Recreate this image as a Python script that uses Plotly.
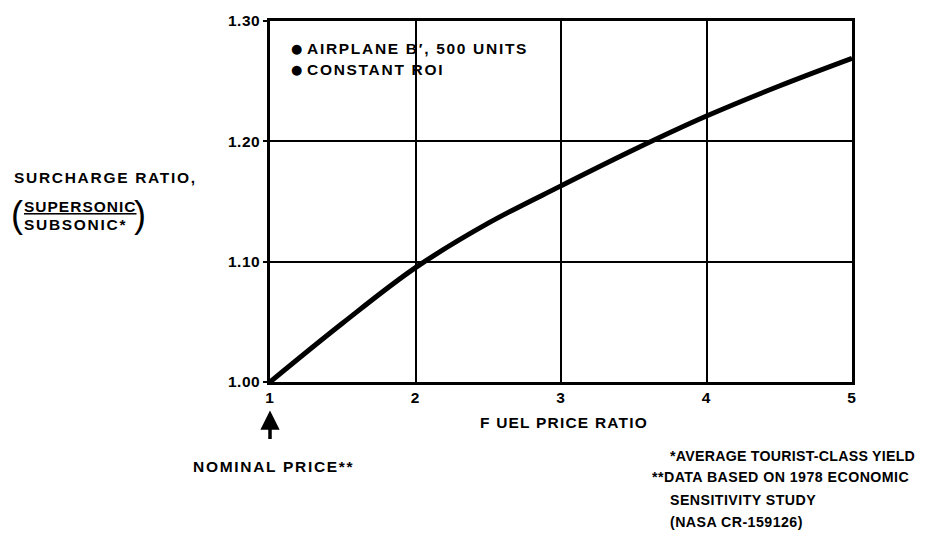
import plotly.graph_objects as go

fuel_price_ratio = [1.0, 1.5, 2.0, 2.5, 3.0, 3.5, 4.0, 4.5, 5.0]
surcharge_ratio = [1.000, 1.049, 1.095, 1.132, 1.163, 1.193, 1.221, 1.246, 1.269]

x_ticks = [1, 2, 3, 4, 5]
x_tick_labels = ["1", "2", "3", "4", "5"]
y_ticks = [1.00, 1.10, 1.20, 1.30]
y_tick_labels = ["1.00", "1.10", "1.20", "1.30"]

FONT = "Liberation Sans"
FS = 15.5

# plot area in pixels
L, R, T, B = 270, 852, 14, 382
W, H = 925, 539


def px(xpix):
    return (xpix - L) / (R - L)


def py(ypix):
    return (B - ypix) / (B - T)


def sp(t, ls):
    return f'<span style="letter-spacing:{ls}px">{t}</span>'


fig = go.Figure()
fig.add_trace(go.Scatter(
    x=fuel_price_ratio, y=surcharge_ratio, mode="lines",
    line=dict(color="black", width=5, shape="spline", smoothing=1.0),
    hoverinfo="skip", showlegend=False,
))

annotations = []


def text(t, xpix, ypix, xanchor="left", size=FS, weight="bold", family=FONT, ls=0):
    annotations.append(dict(
        text=sp(t, ls) if ls else t, x=px(xpix), y=py(ypix),
        xref="paper", yref="paper",
        xanchor=xanchor, yanchor="middle", showarrow=False,
        font=dict(family=family, size=size, color="black", weight=weight),
    ))


# in-plot notes
text("●", 296, 42, xanchor="center", size=13, family="DejaVu Sans")
text("AIRPLANE B′, 500 UNITS", 305, 42, ls=1.7)
text("●", 296, 63, xanchor="center", size=13, family="DejaVu Sans")
text("CONSTANT ROI", 305, 63, ls=1.7)

# y axis title
text("SURCHARGE RATIO,", 12, 174, ls=1.7)
text("<u>SUPERSONIC</u>", 22, 203, ls=1.0)
text("SUBSONIC*", 22, 221, ls=1.7)
text("(", 17, 211, xanchor="center", size=36, weight="normal")
text(")", 140, 211, xanchor="center", size=36, weight="normal")

# x axis title
text("F UEL PRICE RATIO", 564, 423, xanchor="center", ls=1.2)

# nominal price
text("NOMINAL PRICE**", 273, 468, xanchor="center", ls=1.7)
annotations.append(dict(
    x=1, y=py(411), xref="x", yref="paper", text="", showarrow=True,
    ax=0, ay=30, axref="pixel", ayref="pixel",
    arrowhead=2, arrowsize=1.1, arrowwidth=3.5, arrowcolor="black",
))

# footnotes
FN = 14.2
text("*AVERAGE TOURIST-CLASS YIELD", 668, 457, size=FN, ls=0.25)
text("**DATA BASED ON 1978 ECONOMIC", 650, 479, size=FN, ls=0.45)
text("SENSITIVITY STUDY", 668, 502, size=FN, ls=0.45)
text("(NASA CR-159126)", 668, 525, size=FN, ls=0.45)

tickfont = dict(family=FONT, size=FS, color="black", weight="bold")

fig.update_layout(
    width=W, height=H,
    margin=dict(l=L, r=W - R, t=T, b=H - B, pad=0),
    paper_bgcolor="white", plot_bgcolor="white",
    font=dict(family=FONT, size=FS, color="black"),
    annotations=annotations,
    xaxis=dict(
        range=[1, 5], tickvals=x_ticks,
        ticktext=[sp(t, 1) for t in x_tick_labels],
        showgrid=True, gridcolor="black", gridwidth=1.5,
        showline=True, linecolor="black", linewidth=2.5, mirror=True,
        ticks="", zeroline=False, tickfont=tickfont,
    ),
    yaxis=dict(
        range=[1.0, 1.3], tickvals=y_ticks,
        ticktext=[sp(t, 0.5) for t in y_tick_labels],
        showgrid=True, gridcolor="black", gridwidth=1.5,
        showline=True, linecolor="black", linewidth=2.5, mirror=True,
        ticks="outside", ticklen=4, tickwidth=1.5, tickcolor="black",
        zeroline=False, tickfont=tickfont,
    ),
)

fig.write_html(
    "out.html",
    config={"displayModeBar": False},
    post_script="document.body.style.margin='0';document.body.style.overflow='hidden';",
)
